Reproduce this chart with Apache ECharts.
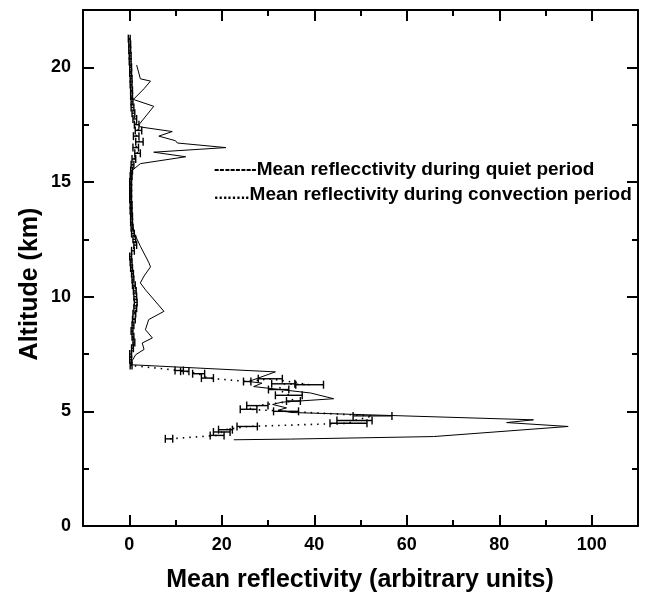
<!DOCTYPE html>
<html>
<head>
<meta charset="utf-8">
<script src="https://cdn.jsdelivr.net/npm/echarts@6/dist/echarts.min.js"></script>
<style>html,body{margin:0;padding:0;background:#fff}#c{width:648px;height:596px}</style>
</head>
<body>
<div id="c"></div>
<script>
// ---- Data ----
const xMajorTicks = [0, 20, 40, 60, 80, 100];
const xMinorTicks = [10, 30, 50, 70, 90];
const yMajorTicks = [0, 5, 10, 15, 20];
const yMinorTicks = [2.5, 7.5, 12.5, 17.5];

// quiet period (solid line): altitude (km) and mean reflectivity
const quietAlt = [20.1, 19.5, 19.4, 19.07, 18.6, 18.3, 17.5, 17.4, 17.2, 17.0, 16.8, 16.7, 16.5, 16.3, 16.1, 15.8, 15.5, 15.0, 14.5, 14.0, 13.4, 12.8, 12.2, 11.5, 11.3, 10.9, 10.6, 10.3, 9.36, 9.0, 8.56, 8.2, 7.98, 7.7, 7.47, 7.2, 7.03, 6.72, 6.3, 6.23, 6.08, 5.8, 5.55, 5.4, 5.3, 5.15, 5.05, 4.95, 4.63, 4.51, 4.34, 3.9, 3.79, 3.76];
const quietVal = [1.6, 2.4, 4.6, 3.2, 0.9, 5.3, 2.1, 2.4, 9.3, 6.4, 10.0, 10.4, 20.9, 5.3, 12.2, 2.4, 0.6, 0.4, 0.3, 0.4, 0.6, 1.0, 2.4, 4.2, 4.6, 3.2, 2.4, 3.5, 7.5, 4.2, 3.5, 5.0, 2.8, 3.2, 1.4, 0.6, 0.5, 31.6, 25.8, 28.7, 26.9, 39.2, 44.2, 33.0, 31.0, 34.0, 32.2, 35.0, 87.4, 81.6, 94.9, 65.8, 34.9, 22.6];

// convection period (dotted line with horizontal error bars)
const convAlt = [21.25, 21.0, 20.75, 20.5, 20.25, 20.0, 19.75, 19.5, 19.25, 19.0, 18.75, 18.5, 18.25, 18.0, 17.75, 17.5, 17.25, 17.0, 16.75, 16.5, 16.25, 16.0, 15.75, 15.5, 15.25, 15.0, 14.75, 14.5, 14.25, 14.0, 13.75, 13.5, 13.25, 13.0, 12.75, 12.5, 12.25, 12.0, 11.75, 11.5, 11.25, 11.0, 10.75, 10.5, 10.25, 10.0, 9.75, 9.5, 9.25, 9.0, 8.75, 8.5, 8.25, 8.0, 7.75, 7.5, 7.25, 7.0,
  6.78, 6.75, 6.64, 6.45, 6.3, 6.42, 6.16, 6.2, 5.95, 5.7, 5.45, 5.25, 5.09, 5.0, 4.8, 4.6, 4.48, 4.34, 4.2, 4.1, 3.95, 3.8];
const convVal = [0.0, 0.1, 0.1, 0.2, 0.2, 0.3, 0.3, 0.4, 0.4, 0.5, 0.5, 0.6, 0.7, 0.9, 1.2, 1.6, 2.0, 1.5, 2.2, 1.4, 1.8, 1.0, 0.7, 0.5, 0.4, 0.3, 0.3, 0.3, 0.3, 0.4, 0.4, 0.5, 0.5, 0.6, 0.8, 1.1, 1.3, 0.8, 0.3, 0.4, 0.5, 0.7, 0.8, 1.0, 1.2, 1.3, 1.4, 1.3, 1.1, 1.0, 0.8, 0.6, 0.8, 1.0, 0.7, 0.3, 0.3, 0.4,
  10.8, 12.0, 15.0, 16.9, 25.5, 30.5, 39.0, 33.3, 32.3, 34.5, 35.5, 27.7, 25.8, 33.9, 52.6, 48.7, 47.4, 25.5, 20.8, 20.0, 19.0, 8.6];
const convErr = [0.2, 0.2, 0.2, 0.2, 0.2, 0.2, 0.2, 0.2, 0.2, 0.2, 0.2, 0.2, 0.3, 0.3, 0.4, 0.5, 0.7, 0.6, 0.8, 0.6, 0.6, 0.4, 0.3, 0.2, 0.2, 0.2, 0.2, 0.2, 0.2, 0.2, 0.2, 0.2, 0.2, 0.2, 0.3, 0.3, 0.3, 0.3, 0.2, 0.2, 0.2, 0.2, 0.2, 0.3, 0.3, 0.3, 0.3, 0.3, 0.3, 0.3, 0.2, 0.2, 0.2, 0.2, 0.2, 0.2, 0.2, 0.2,
  0.9, 0.9, 1.3, 1.3, 0.8, 2.6, 3.0, 2.5, 2.2, 2.9, 1.5, 2.3, 1.8, 2.7, 4.2, 3.8, 4.0, 2.2, 1.5, 1.8, 1.5, 0.8];

const xTitle = 'Mean reflectivity (arbitrary units)';
const yTitle = 'Altitude (km)';
const legend1Mark = '--------';
const legend1Text = 'Mean reflecctivity during quiet period';
const legend2Mark = '........';
const legend2Text = 'Mean reflectivity during convection period';

// ---- Build options ----
const FONT = '"Liberation Sans", Arial, sans-serif';
const quietData = quietAlt.map((a, i) => [quietVal[i], a]);
const convData = convAlt.map((a, i) => [convVal[i], a]);
const errData = convAlt.map((a, i) => [convVal[i], a, convErr[i]]);

function xAx(position, ticks, len, lineShow, labels) {
  return {
    type: 'value', position: position, min: -10, max: 110,
    axisLine: {show: lineShow, onZero: false, lineStyle: {color: '#000', width: 2}},
    axisTick: {show: true, inside: true, length: len, customValues: ticks, lineStyle: {color: '#000', width: 2}},
    axisLabel: labels ? {show: true, customValues: ticks, color: '#000', fontFamily: FONT, fontWeight: 'bold', fontSize: 18, margin: 10} : {show: false},
    splitLine: {show: false}
  };
}
function yAx(position, ticks, len, lineShow, labels) {
  return {
    type: 'value', position: position, min: 0, max: 22.5,
    axisLine: {show: lineShow, onZero: false, lineStyle: {color: '#000', width: 2}},
    axisTick: {show: true, inside: true, length: len, customValues: ticks, lineStyle: {color: '#000', width: 2}},
    axisLabel: labels ? {show: true, customValues: ticks, color: '#000', fontFamily: FONT, fontWeight: 'bold', fontSize: 18, margin: 12} : {show: false},
    splitLine: {show: false}
  };
}

const chart = echarts.init(document.getElementById('c'), null, {renderer: 'canvas'});
chart.setOption({
  backgroundColor: '#fff',
  animation: false,
  grid: {left: 83, right: 10, top: 10, bottom: 70, containLabel: false},
  xAxis: [
    xAx('bottom', xMajorTicks, 11, true, true),
    xAx('bottom', xMinorTicks, 6, false, false),
    xAx('top', xMajorTicks, 11, true, false),
    xAx('top', xMinorTicks, 6, false, false)
  ],
  yAxis: [
    yAx('left', yMajorTicks, 11, true, true),
    yAx('left', yMinorTicks, 6, false, false),
    yAx('right', yMajorTicks, 11, true, false),
    yAx('right', yMinorTicks, 6, false, false)
  ],
  graphic: [
    {type: 'text', x: 360, y: 580, style: {text: xTitle, font: 'bold 25px ' + FONT, fill: '#000', align: 'center', verticalAlign: 'middle'}},
    {type: 'text', x: 30, y: 284, rotation: Math.PI / 2, style: {text: yTitle, font: 'bold 25px ' + FONT, fill: '#000', align: 'center', verticalAlign: 'middle'}},
    {type: 'text', x: 214, y: 170, style: {
      text: '{m|' + legend1Mark + '}{t|' + legend1Text + '}', verticalAlign: 'middle',
      rich: {m: {font: 'bold 16px ' + FONT, fill: '#000'}, t: {font: 'bold 19px ' + FONT, fill: '#000'}}
    }},
    {type: 'text', x: 214, y: 195, style: {
      text: '{m|' + legend2Mark + '}{t|' + legend2Text + '}', verticalAlign: 'middle',
      rich: {m: {font: 'bold 16px ' + FONT, fill: '#000'}, t: {font: 'bold 19px ' + FONT, fill: '#000'}}
    }}
  ],
  series: [
    {
      type: 'line', data: quietData, xAxisIndex: 0, yAxisIndex: 0,
      showSymbol: false, symbol: 'none', smooth: false,
      lineStyle: {color: '#000', width: 1}
    },
    {
      type: 'line', data: convData, xAxisIndex: 0, yAxisIndex: 0,
      showSymbol: false, symbol: 'none', smooth: false,
      lineStyle: {color: '#000', width: 1.6, type: [1.5, 5]}
    },
    {
      type: 'custom', data: errData, xAxisIndex: 0, yAxisIndex: 0,
      renderItem: function (params, api) {
        const x = api.value(0), y = api.value(1), e = api.value(2);
        const p1 = api.coord([x - e, y]);
        const p2 = api.coord([x + e, y]);
        const h = 4;
        const st = {stroke: '#000', lineWidth: 1.4};
        return {
          type: 'group',
          children: [
            {type: 'line', shape: {x1: p1[0], y1: p1[1], x2: p2[0], y2: p2[1]}, style: st},
            {type: 'line', shape: {x1: p1[0], y1: p1[1] - h, x2: p1[0], y2: p1[1] + h}, style: st},
            {type: 'line', shape: {x1: p2[0], y1: p2[1] - h, x2: p2[0], y2: p2[1] + h}, style: st}
          ]
        };
      }
    }
  ]
});
</script>
</body>
</html>
